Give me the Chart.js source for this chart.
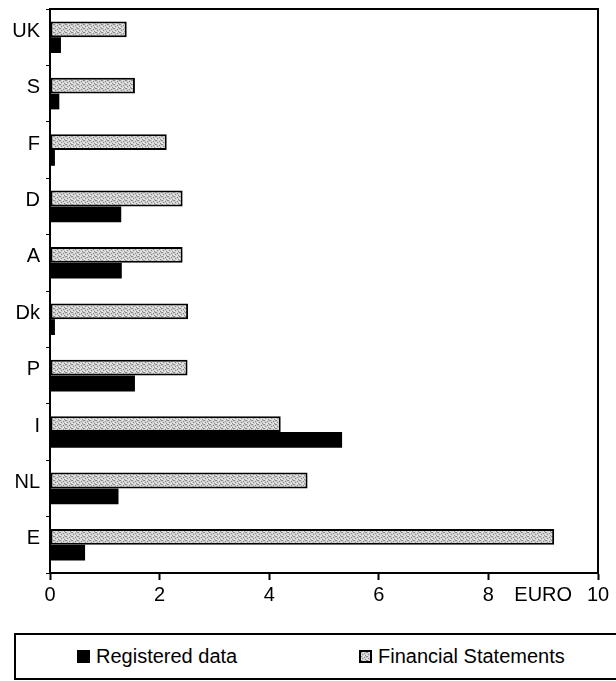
<!DOCTYPE html>
<html>
<head>
<meta charset="utf-8">
<script src="https://cdn.jsdelivr.net/npm/chart.js@4.4.1/dist/chart.umd.min.js"></script>
<style>
  body { margin: 0; background: #fff; }
  #wrap { position: relative; width: 616px; height: 681px; overflow: hidden; }
  #box { position: absolute; left: 0; top: 0; width: 616px; height: 630px; }
  #legend {
    position: absolute; left: 14px; top: 633px; width: 640px; height: 43px;
    border: 2px solid #000; border-right: none;
    font-family: "Liberation Sans", Arial, sans-serif; font-size: 20px; color: #000;
  }
  #legend .item { position: absolute; top: 0; height: 43px; display: flex; align-items: center; }
  #legend .sw { display: inline-block; width: 13px; height: 13px; margin-right: 6px; box-sizing: border-box; }
</style>
</head>
<body>
<div id="wrap">
  <div id="box"><canvas id="barChart"></canvas></div>
  <div id="legend"></div>
</div>
<script>
const categories = ['UK', 'S', 'F', 'D', 'A', 'Dk', 'P', 'I', 'NL', 'E'];
const financialStatements = [1.40, 1.55, 2.13, 2.42, 2.42, 2.52, 2.51, 4.21, 4.70, 9.20];
const registeredData = [0.20, 0.17, 0.09, 1.30, 1.31, 0.09, 1.55, 5.33, 1.25, 0.64];
const xTickValues = [0, 2, 4, 6, 8, 10];
const unitLabel = 'EURO';
const unitTickValue = 9;

(function() {
  if (typeof Chart === 'undefined') return;

  // speckled grey fill like the scanned hatching
  const pc = document.createElement('canvas');
  pc.width = 6; pc.height = 4;
  const px = pc.getContext('2d');
  px.fillStyle = '#cfcfcf';
  px.fillRect(0, 0, 6, 4);
  px.fillStyle = '#8a8a8a';
  [[0, 0], [3, 1], [1, 2], [4, 3], [5, 0]].forEach(function(p) { px.fillRect(p[0], p[1], 1, 1); });
  px.fillStyle = '#eeeeee';
  [[2, 0], [5, 2], [0, 3], [3, 3]].forEach(function(p) { px.fillRect(p[0], p[1], 1, 1); });
  const hatch = px.createPattern(pc, 'repeat');

  const frame = {
    id: 'frame',
    afterDatasetsDraw: function(chart) {
      const a = chart.chartArea;
      const ctx = chart.ctx;
      ctx.save();
      ctx.strokeStyle = '#000';
      ctx.lineWidth = 2;
      ctx.strokeRect(a.left, a.top, a.right - a.left, a.bottom - a.top);
      ctx.restore();
    }
  };

  const font = { family: '"Liberation Sans", Arial, sans-serif', size: 20 };

  const chart = new Chart(document.getElementById('barChart'), {
    type: 'bar',
    data: {
      labels: categories,
      datasets: [{
        label: 'Financial Statements',
        data: financialStatements,
        backgroundColor: hatch,
        borderColor: '#000',
        borderWidth: 2,
        borderSkipped: false
      }, {
        label: 'Registered data',
        data: registeredData,
        backgroundColor: '#000',
        borderWidth: 0
      }]
    },
    options: {
      indexAxis: 'y',
      responsive: true,
      maintainAspectRatio: false,
      animation: false,
      layout: { padding: { top: 9, right: 18, left: 0, bottom: 0 } },
      datasets: { bar: { categoryPercentage: 0.56, barPercentage: 1.0 } },
      plugins: {
        legend: { display: false },
        tooltip: { enabled: false }
      },
      scales: {
        x: {
          min: 0,
          max: 10,
          afterBuildTicks: function(scale) {
            scale.ticks = xTickValues.concat([unitTickValue]).map(function(v) { return { value: v }; });
          },
          ticks: {
            color: '#000',
            font: font,
            padding: 3,
            maxRotation: 0,
            autoSkip: false,
            callback: function(v) { return v === unitTickValue ? unitLabel : v; }
          },
          grid: {
            drawOnChartArea: false,
            tickLength: 7,
            tickWidth: 2,
            tickColor: function(ctx) { return ctx.tick && ctx.tick.value === unitTickValue ? 'rgba(0,0,0,0)' : '#000'; }
          },
          border: { color: '#000', width: 2 },
          afterFit: function(scale) { scale.height = 57; }
        },
        y: {
          ticks: { color: '#000', font: font, padding: 6, labelOffset: -6 },
          grid: { drawOnChartArea: false, offset: true, tickLength: 4, tickWidth: 1, tickColor: '#000' },
          border: { color: '#000', width: 2 },
          afterFit: function(scale) {
            scale.width = 50;
            scale.paddingTop = 0;
            scale.paddingBottom = 0;
          }
        }
      }
    },
    plugins: [frame]
  });

  // legend box under the chart, Registered data first as in the original
  const legend = document.getElementById('legend');
  const spots = { 'Registered data': 61, 'Financial Statements': 343 };
  chart.data.datasets.slice().reverse().forEach(function(ds) {
    const item = document.createElement('div');
    item.className = 'item';
    item.style.left = spots[ds.label] + 'px';
    const sw = document.createElement('span');
    sw.className = 'sw';
    if (ds.backgroundColor === '#000') {
      sw.style.background = '#000';
    } else {
      sw.style.background = 'url(' + pc.toDataURL() + ')';
      sw.style.border = '2px solid #000';
    }
    item.appendChild(sw);
    item.appendChild(document.createTextNode(ds.label));
    legend.appendChild(item);
  });
})();
</script>
</body>
</html>
